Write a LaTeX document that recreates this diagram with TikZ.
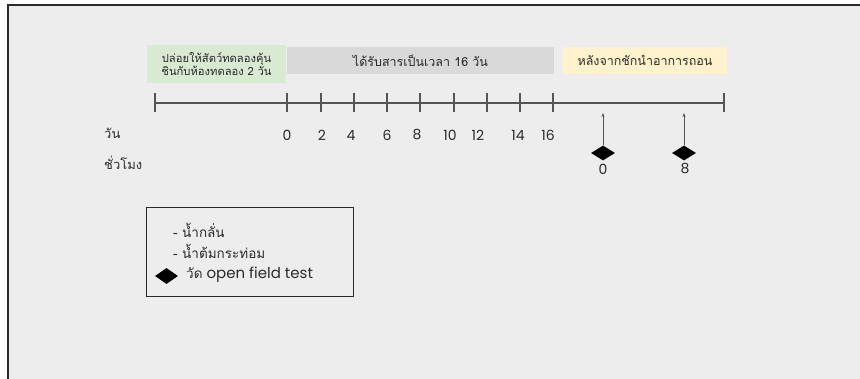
\documentclass[tikz,border=0pt]{standalone}
\usepackage{fontspec}
\setmainfont{Poppins}
\newfontfamily\thai[Script=Thai]{Loma}
\usetikzlibrary{arrows.meta,shapes.geometric}
\definecolor{pagebg}{HTML}{EDEDED}
\definecolor{axis}{HTML}{555555}
\definecolor{ink}{HTML}{2A2A2A}
\definecolor{phaseA}{HTML}{D9EAD3}
\definecolor{phaseB}{HTML}{D9D9D9}
\definecolor{phaseC}{HTML}{FFF2CC}
\tikzset{
  phase/.style={draw=none, inner sep=0pt, align=center, text=ink, font=\thai\fontsize{12.5}{13.5}\selectfont},
  daylbl/.style={text=ink, font=\fontsize{14}{16}\selectfont, inner sep=0pt},
  rowlbl/.style={anchor=west, text=ink, font=\thai\fontsize{13}{14}\selectfont, inner sep=0pt},
  tickmark/.style={draw=axis, line width=2.4pt},
  testmark/.style={diamond, fill=black, inner sep=0pt, minimum width=24pt, minimum height=15pt},
  pointer/.style={draw=axis, line width=0.7pt, -{Stealth[length=4pt,width=3pt]}},
  legendtxt/.style={anchor=west, text=ink, inner sep=0pt, font=\fontsize{15}{16}\selectfont},
  legendthai/.style={legendtxt, font=\thai\fontsize{13.5}{14}\selectfont},
}
\begin{document}
\begin{tikzpicture}[x=1pt,y=-1pt]
\useasboundingbox (0,0) rectangle (860,379);
\fill[white] (0,0) rectangle (860,379);
\fill[pagebg] (8,5) rectangle (860,379);
\draw[line width=1.2pt, ink] (8,379) -- (8,5) -- (860,5);

% phase bands above the time axis
\node[phase, fill=phaseA, minimum width=139pt, minimum height=38pt,
      font=\thai\fontsize{11.2}{12.8}\selectfont] (acclim) at (216.5,64)
  {ปล่อยให้สัตว์ทดลองคุ้น\\ชินกับห้องทดลอง 2 วัน};
\node[phase, fill=phaseB, minimum width=267pt, minimum height=27pt] (dosing) at (420.5,60.5)
  {ได้รับสารเป็นเวลา 16 วัน};
\node[phase, fill=phaseC, minimum width=164pt, minimum height=27pt] (withdraw) at (645,60.5)
  {หลังจากชักนำอาการถอน};

% time axis
\coordinate (axL) at (155,103);
\coordinate (axR) at (724,103);
\draw[draw=axis, line width=2.4pt] (axL) -- (axR);
\foreach \x/\n in {155/s,287/d0,321/d2,354/d4,387/d6,420/d8,454/d10,487/d12,520/d14,553/d16,724/e}{
  \coordinate (t\n) at (\x,103);
  \draw[tickmark] ([yshift=-9.5pt]t\n) -- ([yshift=9.5pt]t\n);
}

% day numbers
\foreach \x/\lab in {287/0,322/2,351/4,387/6,417/8,450/10,478/12,518/14,548/16}{
  \node[daylbl] (day\lab) at (\x,135) {\lab};
}
\node[rowlbl] (rowday) at (104,133) {วัน};
\node[rowlbl] (rowhour) at (104,163) {ชั่วโมง};

% open field test points after withdrawal
\coordinate (p0) at (603,113);
\coordinate (p8) at (684,113);
\node[testmark] (test0) at (603,153) {};
\node[testmark] (test8) at (684,153) {};
\draw[pointer] (test0.north) -- (p0);
\draw[pointer] (test8.north) -- (p8);
\node[daylbl] (hour0) at (603,169) {0};
\node[daylbl] (hour8) at (685,169) {8};

% legend
\node[draw=ink, line width=0.9pt, minimum width=207pt, minimum height=89pt, inner sep=0pt] (legend) at (249.5,251.5) {};
\node[legendthai] (leg1) at (173,230) {- น้ำกลั่น};
\node[legendthai] (leg2) at (173,251) {- น้ำต้มกระท่อม};
\node[testmark, minimum width=23pt, minimum height=16pt] (legmark) at (166.5,276) {};
\node[legendtxt] (leg3) at (186,275) {{\thai\fontsize{13.5}{14}\selectfont วัด} open field test};
\end{tikzpicture}
\end{document}
